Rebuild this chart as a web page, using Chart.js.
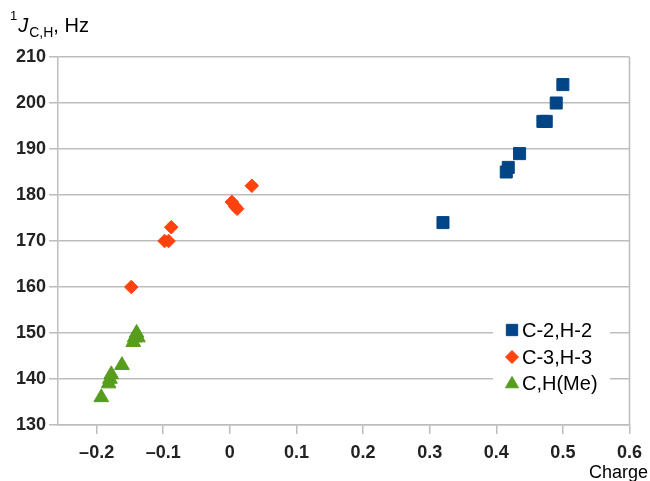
<!DOCTYPE html>
<html>
<head>
<meta charset="utf-8">
<script src="https://cdn.jsdelivr.net/npm/chart.js@4/dist/chart.umd.min.js"></script>
<style>
  html, body { margin: 0; padding: 0; background: #fff; }
  #wrap { width: 650px; height: 481px; }
</style>
</head>
<body>
<div id="wrap"><canvas id="jChart"></canvas></div>
<script>
// data
const seriesNames = ['C-2,H-2', 'C-3,H-3', 'C,H(Me)'];
const c2Charge = [0.32, 0.415, 0.418, 0.435, 0.47, 0.475, 0.49, 0.50];
const c2J      = [174, 185, 186, 189, 196, 196, 200, 204];
const c3Charge = [-0.148, -0.098, -0.092, -0.088, 0.003, 0.008, 0.011, 0.033];
const c3J      = [160, 170, 170, 173, 178.5, 177.5, 177, 182];
const meCharge = [-0.193, -0.182, -0.18, -0.178, -0.162, -0.145, -0.143, -0.14, -0.138];
const meJ      = [136, 139, 140, 141, 143, 148, 149, 150, 149];
const xTicks = [-0.2, -0.1, 0, 0.1, 0.2, 0.3, 0.4, 0.5, 0.6];
const yTicks = [130, 140, 150, 160, 170, 180, 190, 200, 210];

const colors = ['#004586', '#ff420e', '#579d1c'];
const styles = ['rect', 'rectRot', 'triangle'];
const radii = [8.5, 6.8, 8.5];
const gridColor = '#bdbdbd';
const fam = '"Liberation Sans", Arial, sans-serif';

function toPoints(xs, ys) {
    return xs.map((x, i) => ({ x: x, y: ys[i] }));
}

// axis titles, right border and the legend drawn by hand
const extras = {
    id: 'extras',
    afterDraw(chart) {
        const ctx = chart.ctx;
        const a = chart.chartArea;
        ctx.save();
        // right border
        ctx.strokeStyle = gridColor;
        ctx.lineWidth = 1.5;
        ctx.beginPath();
        ctx.moveTo(a.right, a.top);
        ctx.lineTo(a.right, a.bottom);
        ctx.stroke();

        // y title: 1J C,H, Hz
        ctx.fillStyle = '#000';
        ctx.textBaseline = 'alphabetic';
        ctx.textAlign = 'left';
        let x = 10;
        ctx.font = '13px ' + fam;
        ctx.fillText('1', x, 20);
        x += ctx.measureText('1').width + 1;
        ctx.font = 'italic 20px ' + fam;
        ctx.fillText('J', x, 32);
        x += ctx.measureText('J').width + 1;
        ctx.font = '14px ' + fam;
        ctx.fillText('C,H', x, 37);
        x += ctx.measureText('C,H').width;
        ctx.font = '20px ' + fam;
        ctx.fillText(', Hz', x, 32);

        // x title
        ctx.textAlign = 'right';
        ctx.font = '18px ' + fam;
        ctx.fillText('Charge', 648, 478);

        // legend
        ctx.fillStyle = '#fff';
        ctx.fillRect(493, 314, 117, 84);
        const rows = [330, 357, 383];
        ctx.textAlign = 'left';
        ctx.textBaseline = 'middle';
        ctx.font = '20px ' + fam;
        seriesNames.forEach((name, i) => {
            ctx.fillStyle = colors[i];
            ctx.strokeStyle = colors[i];
            ctx.lineWidth = 1;
            const r = i === 2 ? 7.5 : (i === 0 ? 8 : 6.5);
            Chart.helpers.drawPoint(ctx, { pointStyle: styles[i], radius: r, borderWidth: 1 }, 512, rows[i] + (i === 2 ? 1 : 0));
            ctx.fillStyle = '#000';
            ctx.fillText(name, 522, rows[i] + 1);
        });
        ctx.restore();
    }
};

const datasets = [
    toPoints(c2Charge, c2J),
    toPoints(c3Charge, c3J),
    toPoints(meCharge, meJ)
].map((pts, i) => ({
    label: seriesNames[i],
    data: pts,
    pointStyle: styles[i],
    pointRadius: radii[i],
    pointHoverRadius: radii[i],
    backgroundColor: colors[i],
    borderColor: colors[i],
    borderWidth: 1,
    showLine: false
}));

new Chart(document.getElementById('jChart'), {
    type: 'scatter',
    data: { datasets: datasets },
    options: {
        responsive: true,
        maintainAspectRatio: false,
        animation: false,
        layout: { padding: { top: 57, right: 18, left: 0, bottom: 0 } },
        plugins: {
            legend: { display: false },
            tooltip: { enabled: false }
        },
        scales: {
            x: {
                type: 'linear',
                min: -0.258,
                max: 0.6,
                afterBuildTicks: s => { s.ticks = xTicks.map(v => ({ value: v })); },
                afterFit: s => { s.height = 56; },
                grid: { drawOnChartArea: false, color: gridColor, lineWidth: 1.5, tickLength: 9 },
                border: { display: true, color: gridColor, width: 1.5 },
                ticks: {
                    color: '#222',
                    padding: 8,
                    maxRotation: 0,
                    autoSkip: false,
                    font: { family: fam, size: 18, weight: 'bold' },
                    callback: v => (Math.abs(v) < 1e-9 ? '0' : (v < 0 ? '\u2013' + Math.abs(v).toFixed(1) : v.toFixed(1)))
                }
            },
            y: {
                type: 'linear',
                min: 130,
                max: 210,
                afterBuildTicks: s => { s.ticks = yTicks.map(v => ({ value: v })); },
                afterFit: s => { s.width = 58; },
                grid: { color: gridColor, lineWidth: 1.5, tickLength: 9 },
                border: { display: true, color: gridColor, width: 1.5 },
                ticks: {
                    color: '#222',
                    padding: 3,
                    autoSkip: false,
                    font: { family: fam, size: 18, weight: 'bold' }
                }
            }
        }
    },
    plugins: [extras]
});
</script>
</body>
</html>
